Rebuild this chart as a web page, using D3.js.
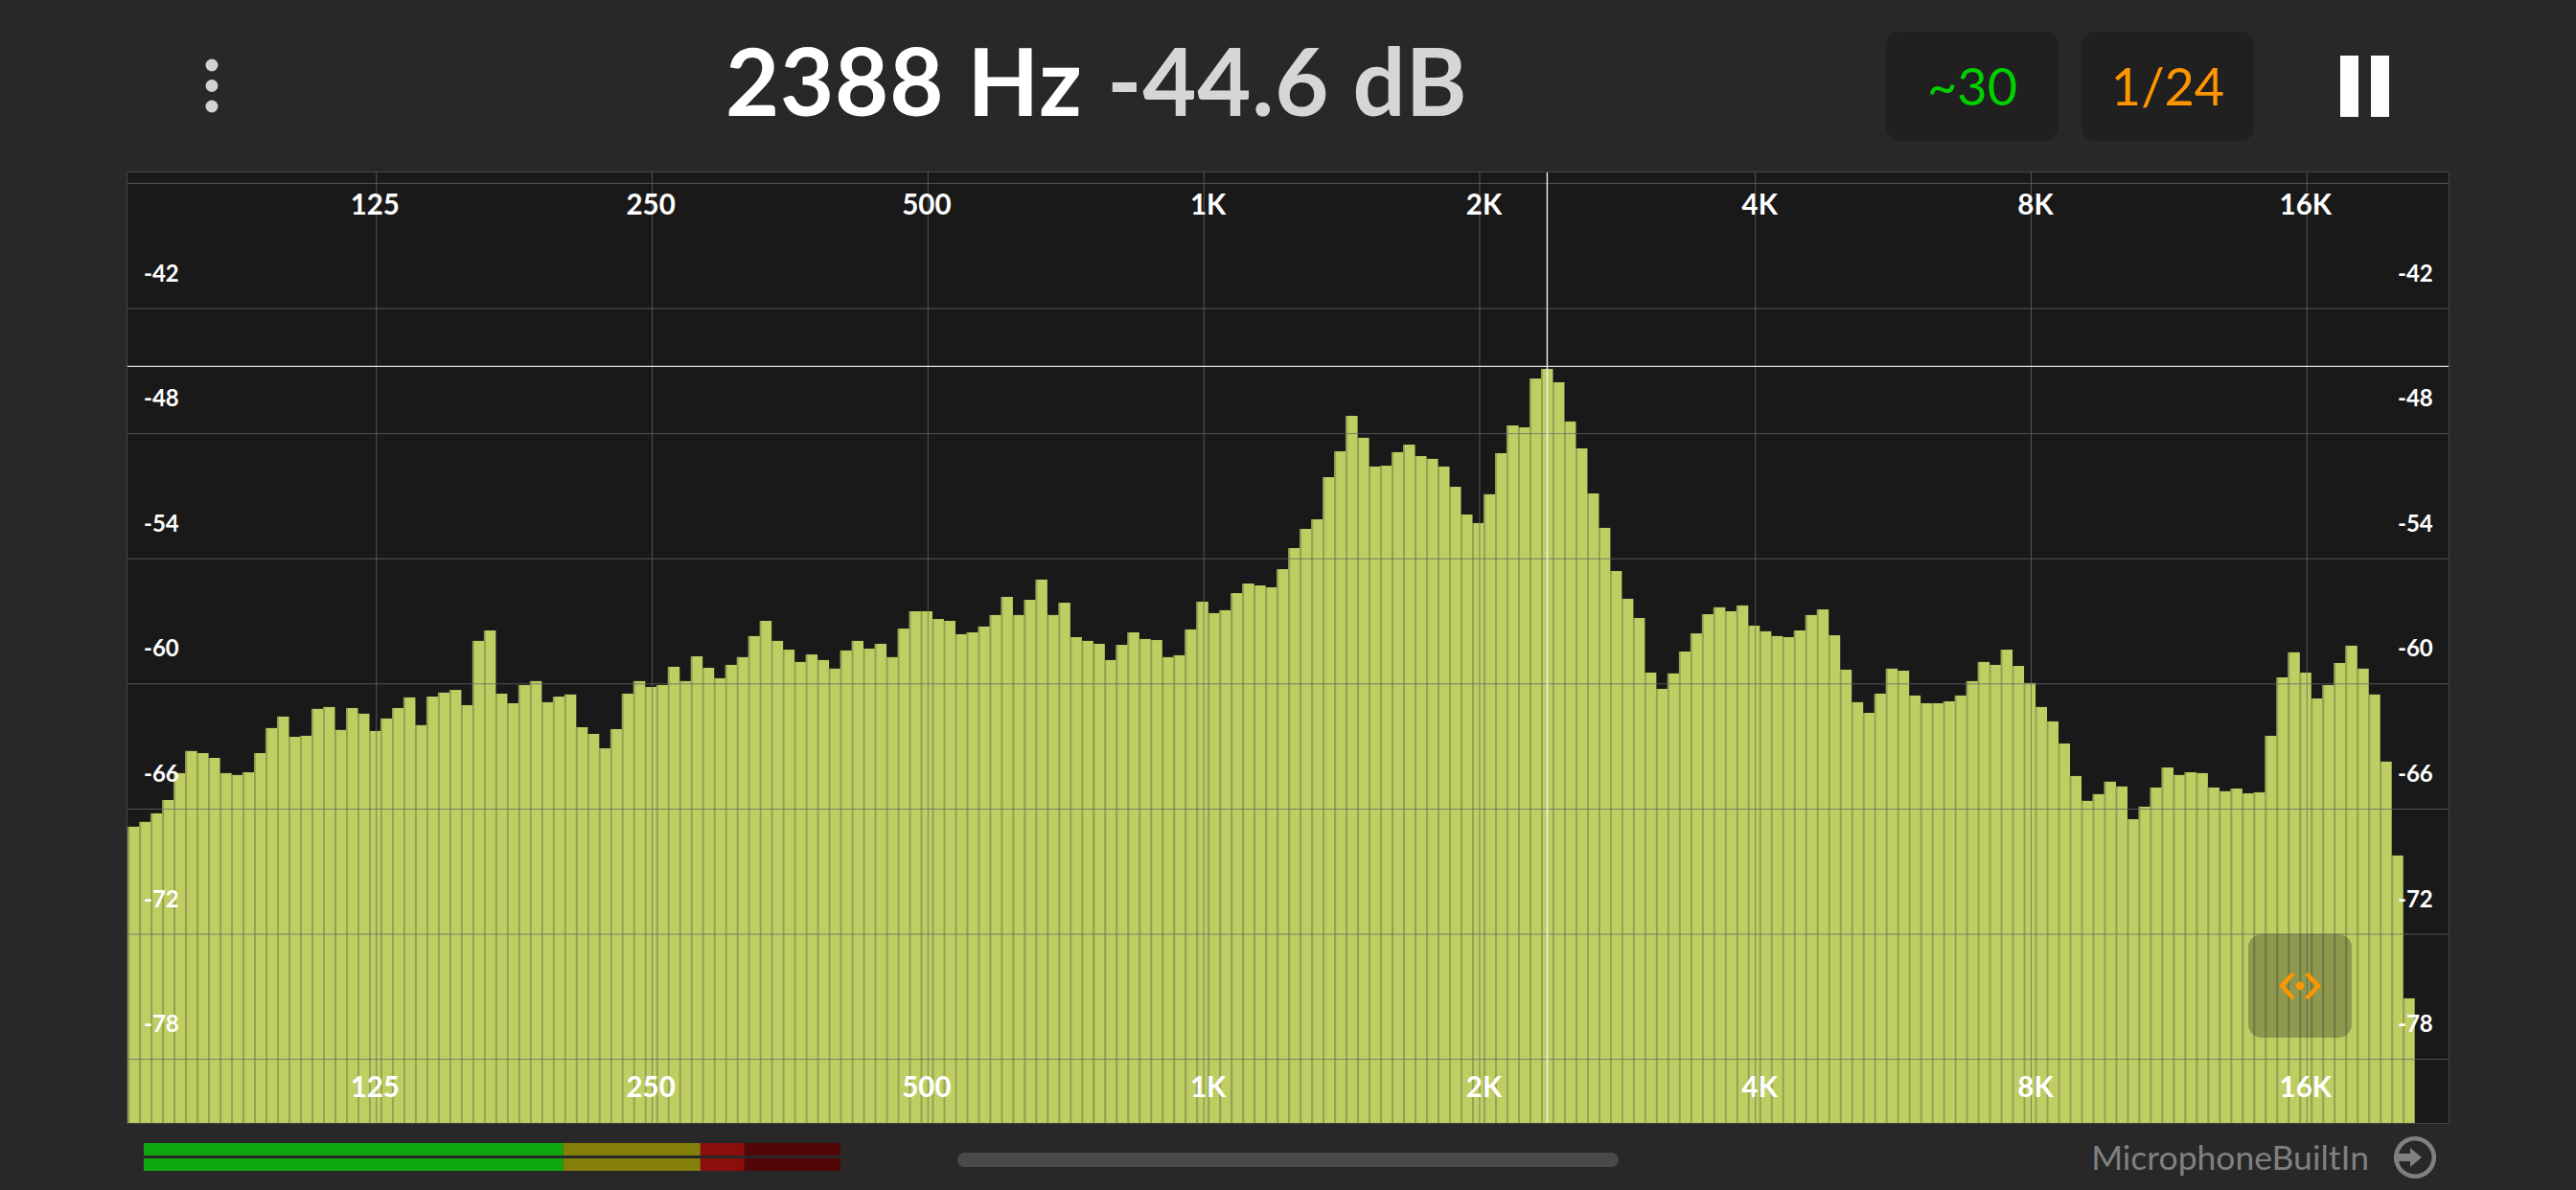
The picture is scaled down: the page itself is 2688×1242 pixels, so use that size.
<!DOCTYPE html>
<html>
<head>
<meta charset="utf-8">
<script src="https://cdn.jsdelivr.net/npm/d3@7"></script>
<style>
  html, body { margin: 0; padding: 0; background: #282828; overflow: hidden; }
  text { font-family: Lato, sans-serif; }
</style>
</head>
<body>
<div id="chart"></div>
<script>
// level of each 1/24 octave band, dB, low to high frequency
const levels = [
  -66.87,-66.64,-66.23,-65.59,-64.30,-63.24,-63.34,-63.57,-64.30,-64.39,
  -64.26,-63.34,-62.14,-61.59,-62.56,-62.51,-61.22,-61.13,-62.23,-61.18,
  -61.45,-62.28,-61.68,-61.18,-60.67,-62.00,-60.63,-60.44,-60.31,-61.04,
  -57.96,-57.46,-60.49,-60.95,-60.08,-59.89,-60.90,-60.63,-60.53,-62.10,
  -62.42,-63.11,-62.19,-60.49,-59.89,-60.17,-60.08,-59.20,-59.89,-58.70,
  -59.25,-59.75,-59.11,-58.74,-57.73,-57.00,-57.96,-58.38,-58.97,-58.61,
  -58.88,-59.29,-58.42,-57.96,-58.33,-58.10,-58.74,-57.37,-56.54,-56.54,
  -56.91,-57.00,-57.64,-57.55,-57.27,-56.72,-55.85,-56.72,-55.99,-55.02,
  -56.72,-56.13,-57.78,-57.96,-58.10,-58.88,-58.15,-57.55,-57.87,-57.92,
  -58.74,-58.65,-57.41,-56.08,-56.63,-56.49,-55.67,-55.21,-55.30,-55.39,
  -54.52,-53.51,-52.59,-52.13,-50.11,-48.87,-47.17,-48.22,-49.60,-49.56,
  -48.91,-48.55,-49.10,-49.23,-49.60,-50.57,-51.90,-52.31,-50.93,-48.96,
  -47.63,-47.72,-45.38,-44.92,-45.56,-47.44,-48.73,-50.89,-52.54,-54.61,
  -55.94,-56.86,-59.48,-60.26,-59.52,-58.47,-57.60,-56.68,-56.35,-56.54,
  -56.26,-57.23,-57.50,-57.73,-57.78,-57.46,-56.72,-56.45,-57.69,-59.34,
  -60.90,-61.41,-60.49,-59.29,-59.39,-60.58,-60.95,-60.95,-60.86,-60.58,
  -59.89,-58.97,-59.11,-58.38,-59.16,-59.98,-61.13,-61.82,-62.88,-64.44,
  -65.63,-65.31,-64.71,-64.94,-66.51,-65.91,-64.99,-64.03,-64.39,-64.26,
  -64.30,-64.99,-65.17,-65.04,-65.27,-65.22,-62.51,-59.71,-58.51,-59.48,
  -60.72,-60.08,-59.02,-58.19,-59.29,-60.53,-63.75,-68.25,-75.10
];
const freqTicks = [125, 250, 500, 1000, 2000, 4000, 8000, 16000];
const freqLabels = ["125", "250", "500", "1K", "2K", "4K", "8K", "16K"];
const dbGrid = [-36, -42, -48, -54, -60, -66, -72, -78];
const dbLabels = [-42, -48, -54, -60, -66, -72, -78];

const peakBand = 123;      // band under the cursor
const cursorDb = -44.8;    // where the cursor line sits on the y scale
const readoutFreq = "2388 Hz";
const readoutLevel = "-44.6 dB";
const averaging = "~30";
const resolution = "1/24";
const inputName = "MicrophoneBuiltIn";

// meter segments, percent of the meter length
const meterStops = [0, 60.2, 79.9, 86.2, 100];
const meterColors = ["#10a810", "#85800a", "#8a0f0c", "#520707"];

const W = 2688, H = 1242;
const plot = { left: 133, right: 2555, top: 180, bottom: 1172 };

const svg = d3.select("#chart").append("svg")
    .attr("width", W)
    .attr("height", H)
    .style("display", "block");

svg.append("rect").attr("width", W).attr("height", H).attr("fill", "#282828");

// header
const dots = [68, 89.5, 111];
svg.selectAll(".menu-dot").data(dots).join("circle")
    .attr("class", "menu-dot")
    .attr("cx", 221).attr("cy", d => d).attr("r", 6.5).attr("fill", "#d2d2d2");

const readout = svg.append("text")
    .attr("x", 757).attr("y", 121)
    .attr("font-size", 97).attr("font-weight", 700)
    .attr("letter-spacing", 0.8);
readout.append("tspan").attr("fill", "#ffffff").text(readoutFreq);
readout.append("tspan").attr("fill", "#d6d6d6").attr("dx", 26).text(readoutLevel);

const buttons = [
  { x: 1968, w: 180, label: averaging, color: "#00d000" },
  { x: 2172, w: 180, label: resolution, color: "#ff9500" }
];
svg.selectAll(".btn").data(buttons).join("rect")
    .attr("class", "btn")
    .attr("x", d => d.x).attr("y", 33)
    .attr("width", d => d.w).attr("height", 114)
    .attr("rx", 14).attr("fill", "#202020");
svg.selectAll(".btn-label").data(buttons).join("text")
    .attr("class", "btn-label")
    .attr("x", d => d.x + d.w / 2).attr("y", 110)
    .attr("text-anchor", "middle")
    .attr("font-size", 54)
    .attr("fill", d => d.color)
    .text(d => d.label);

svg.selectAll(".pause").data([2442, 2474]).join("rect")
    .attr("class", "pause")
    .attr("x", d => d).attr("y", 58)
    .attr("width", 19).attr("height", 64)
    .attr("fill", "#ffffff");

// plot background
svg.append("rect")
    .attr("x", plot.left).attr("y", plot.top)
    .attr("width", plot.right - plot.left).attr("height", plot.bottom - plot.top)
    .attr("fill", "#191919");

// scales
const band = d3.scaleBand()
    .domain(d3.range(levels.length))
    .range([133.7, 133.7 + levels.length * 11.99]);

const x = d3.scaleLog()
    .base(2)
    .domain([125, 16000])
    .range([392.3, 2406.8]);

const y = d3.scaleLinear()
    .domain([-42, -78])
    .range([321.5, 1105.1]);

// bars
svg.append("g").selectAll("rect").data(levels).join("rect")
    .attr("x", (d, i) => band(i))
    .attr("y", d => y(d))
    .attr("width", band.bandwidth())
    .attr("height", d => plot.bottom - y(d))
    .attr("fill", "#bfce63");

// darker left edge of every bar
svg.append("g").selectAll("rect").data(levels).join("rect")
    .attr("x", (d, i) => band(i) - 0.5)
    .attr("y", d => y(d))
    .attr("width", 2)
    .attr("height", d => plot.bottom - y(d))
    .attr("fill", "#96a153");

// grid
const gridColor = "#686868";
const gridV = svg.append("g")
    .attr("transform", `translate(0,${plot.top})`)
    .call(d3.axisBottom(x).tickValues(freqTicks).tickSize(plot.bottom - plot.top).tickFormat(""));
const gridH = svg.append("g")
    .attr("transform", `translate(${plot.left},0)`)
    .call(d3.axisRight(y).tickValues(dbGrid).tickSize(plot.right - plot.left).tickFormat(""));
[gridV, gridH].forEach(g => {
  g.select(".domain").remove();
  g.selectAll("line").attr("stroke", gridColor).attr("stroke-opacity", 0.76).attr("stroke-width", 1);
});

svg.append("rect")
    .attr("x", plot.left - 0.5).attr("y", plot.top - 0.5)
    .attr("width", plot.right - plot.left + 1).attr("height", plot.bottom - plot.top + 1)
    .attr("fill", "none")
    .attr("stroke", "#444444");

// cursor
svg.append("line")
    .attr("x1", plot.left).attr("x2", plot.right)
    .attr("y1", y(cursorDb)).attr("y2", y(cursorDb))
    .attr("stroke", "#dddddd").attr("stroke-width", 1.2);
svg.append("line")
    .attr("x1", band(peakBand) + band.bandwidth() / 2)
    .attr("x2", band(peakBand) + band.bandwidth() / 2)
    .attr("y1", plot.top).attr("y2", plot.bottom)
    .attr("stroke", "#f0f0f0").attr("stroke-width", 1.4);

// frequency labels, top and bottom
[224, 1145].forEach(base => {
  svg.append("g").selectAll("text").data(freqLabels).join("text")
      .attr("x", (d, i) => x(freqTicks[i]) + (d.length === 2 ? 5 : -1))
      .attr("y", base)
      .attr("text-anchor", "middle")
      .attr("font-size", 29.5)
      .attr("font-weight", 700)
      .attr("fill", "#ffffff")
      .text(d => d);
});

// level labels, left and right
[150, 2502].forEach(left => {
  svg.append("g").selectAll("text").data(dbLabels).join("text")
      .attr("x", left)
      .attr("y", d => y(d) - 28)
      .attr("font-size", 24)
      .attr("font-weight", 700)
      .attr("fill", "#ffffff")
      .text(d => d);
});

// zoom handle
svg.append("rect")
    .attr("x", 2346).attr("y", 975)
    .attr("width", 108).attr("height", 108)
    .attr("rx", 14)
    .attr("fill", "#1e1e1e").attr("fill-opacity", 0.3);
const handle = svg.append("g").attr("transform", "translate(2400,1029)");
handle.append("circle").attr("r", 4.2).attr("fill", "#ff9500");
handle.selectAll("path").data([-1, 1]).join("path")
    .attr("d", s => `M${s * 7},-13L${s * 19},0L${s * 7},13`)
    .attr("fill", "none")
    .attr("stroke", "#ff9500")
    .attr("stroke-width", 4.5);

// level meter
const meterX = d3.scaleLinear().domain([0, 100]).range([150, 877]);
[1193, 1209].forEach(top => {
  svg.append("g").selectAll("rect").data(meterColors).join("rect")
      .attr("x", (d, i) => meterX(meterStops[i]))
      .attr("width", (d, i) => meterX(meterStops[i + 1]) - meterX(meterStops[i]))
      .attr("y", top)
      .attr("height", 13)
      .attr("fill", d => d);
});

// scrollbar
svg.append("rect")
    .attr("x", 999).attr("y", 1203)
    .attr("width", 690).attr("height", 15)
    .attr("rx", 7.5)
    .attr("fill", "#4a4a4a");

// input selector
svg.append("text")
    .attr("x", 2472).attr("y", 1221)
    .attr("text-anchor", "end")
    .attr("font-size", 35.5)
    .attr("fill", "#808080")
    .text(inputName);

const inputIcon = svg.append("g").attr("transform", "translate(2520,1208)");
inputIcon.append("path")
    .attr("d", d3.arc().innerRadius(17.5).outerRadius(22).startAngle(-Math.PI * 0.82).endAngle(-Math.PI * 0.18 + Math.PI * 2)())
    .attr("fill", "#808080");
inputIcon.append("path")
    .attr("d", "M-20,-4H-5V-10L7,0L-5,10V4H-20Z")
    .attr("fill", "#808080");
</script>
</body>
</html>
